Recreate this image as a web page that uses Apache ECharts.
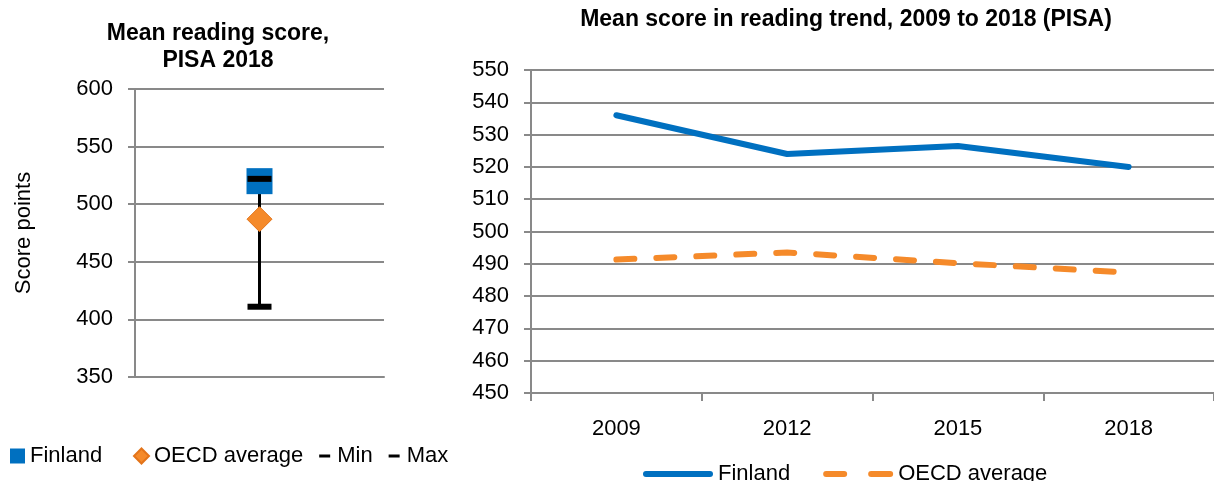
<!DOCTYPE html>
<html>
<head>
<meta charset="utf-8">
<script src="https://cdn.jsdelivr.net/npm/echarts@6/dist/echarts.min.js"></script>
<style>
  body { margin: 0; background: #fff; }
  #left { position: absolute; left: 0; top: 0; width: 460px; height: 481px; }
  #right { position: absolute; left: 460px; top: 0; width: 754px; height: 481px; }
</style>
</head>
<body>
<div id="left"></div>
<div id="right"></div>
<script>
// PISA 2018 snapshot
const finland2018 = [520];
const oecd2018 = [487];
const minScore = [411];
const maxScore = [522];

// trend 2009-2018
const years = ['2009', '2012', '2015', '2018'];
const finlandTrend = [536, 524, 526.5, 520];
const oecdTrend = [491.3, 493.5, 490.2, 487.3];

const gray = '#898989';
const blue = '#0070C0';
const orange = '#F58A2A';
const font = 'Liberation Sans, Arial, sans-serif';

let leftChart = echarts.init(document.getElementById('left'));
leftChart.setOption({
  animation: false,
  title: {
    text: 'Mean reading score,\nPISA 2018',
    left: 213,
    top: 15,
    textAlign: 'center',
    textStyle: { fontFamily: font, fontSize: 23, fontWeight: 'bold', color: '#000', lineHeight: 27 }
  },
  legend: [
    {
      data: [{ name: 'Finland', icon: 'rect' }],
      left: 5,
      top: 440,
      itemWidth: 15,
      itemHeight: 15,
      textStyle: { fontFamily: font, fontSize: 22, color: '#000' }
    },
    {
      data: [
        { name: 'OECD average', icon: 'diamond' },
        { name: 'Min', icon: 'path://M0,0M2,6h11v3h-11zM15,15' },
        { name: 'Max', icon: 'path://M0,0M2,6h11v3h-11zM15,15' }
      ],
      left: 128,
      top: 440,
      itemGap: 14,
      itemWidth: 15,
      itemHeight: 15,
      textStyle: { fontFamily: font, fontSize: 22, color: '#000' }
    }
  ],
  grid: { left: 135, right: 76, top: 89, bottom: 104 },
  xAxis: {
    type: 'category',
    data: ['PISA 2018'],
    axisLine: { lineStyle: { color: gray, width: 2 } },
    axisTick: { show: false },
    axisLabel: { show: false }
  },
  yAxis: {
    type: 'value',
    min: 350,
    max: 600,
    interval: 50,
    name: 'Score points',
    nameLocation: 'middle',
    nameGap: 100,
    nameTextStyle: { fontFamily: font, fontSize: 22, color: '#000' },
    axisLine: { show: true, lineStyle: { color: gray, width: 2 } },
    axisTick: { show: true, length: 7, lineStyle: { color: gray, width: 2 } },
    axisLabel: { fontFamily: font, fontSize: 22, color: '#000', margin: 22 },
    splitLine: { lineStyle: { color: gray, width: 2 } }
  },
  series: [
    {
      name: 'range',
      type: 'custom',
      z: 1,
      renderItem: function (params, api) {
        let lo = api.coord([api.value(0), api.value(1)]);
        let hi = api.coord([api.value(0), api.value(2)]);
        return {
          type: 'line',
          shape: { x1: lo[0], y1: lo[1], x2: hi[0], y2: hi[1] },
          style: { stroke: '#000', lineWidth: 3 }
        };
      },
      data: [[0, minScore[0], maxScore[0]]]
    },
    {
      name: 'Finland',
      type: 'scatter',
      z: 2,
      symbol: 'rect',
      symbolSize: 26,
      itemStyle: { color: blue, opacity: 1 },
      data: finland2018
    },
    {
      name: 'OECD average',
      type: 'scatter',
      z: 3,
      symbol: 'diamond',
      symbolSize: 25,
      itemStyle: { color: orange, borderColor: '#E3741A', borderWidth: 1, opacity: 1 },
      data: oecd2018
    },
    {
      name: 'Min',
      type: 'scatter',
      z: 4,
      symbol: 'rect',
      symbolSize: [24, 6],
      itemStyle: { color: '#000', opacity: 1 },
      data: minScore
    },
    {
      name: 'Max',
      type: 'scatter',
      z: 4,
      symbol: 'rect',
      symbolSize: [24, 6],
      itemStyle: { color: '#000', opacity: 1 },
      data: maxScore
    }
  ]
});

let rightChart = echarts.init(document.getElementById('right'));
rightChart.setOption({
  animation: false,
  title: {
    text: 'Mean score in reading trend, 2009 to 2018 (PISA)',
    left: 381,
    top: 3,
    textAlign: 'center',
    textStyle: { fontFamily: font, fontSize: 23, fontWeight: 'bold', color: '#000' }
  },
  legend: {
    data: [
      { name: 'Finland', icon: 'path://M3,0h64a3,3 0 0 1 0,6h-64a3,3 0 0 1 0,-6z' },
      { name: 'OECD average', icon: 'path://M3,0h18a3,3 0 0 1 0,6h-18a3,3 0 0 1 0,-6zM48,0h19a3,3 0 0 1 0,6h-19a3,3 0 0 1 0,-6z' }
    ],
    left: 178,
    top: 458,
    itemGap: 33,
    itemWidth: 70,
    itemHeight: 6,
    textStyle: { fontFamily: font, fontSize: 22, color: '#000' }
  },
  grid: { left: 71, right: 0, top: 70, bottom: 88 },
  xAxis: {
    type: 'category',
    data: years,
    boundaryGap: true,
    axisLine: { lineStyle: { color: gray, width: 2 } },
    axisTick: { show: true, length: 8, lineStyle: { color: gray, width: 2 } },
    axisLabel: { fontFamily: font, fontSize: 22, color: '#000', margin: 25 }
  },
  yAxis: {
    type: 'value',
    min: 450,
    max: 550,
    interval: 10,
    axisLine: { show: true, lineStyle: { color: gray, width: 2 } },
    axisTick: { show: true, length: 7, lineStyle: { color: gray, width: 2 } },
    axisLabel: { fontFamily: font, fontSize: 22, color: '#000', margin: 22 },
    splitLine: { lineStyle: { color: gray, width: 2 } }
  },
  series: [
    {
      name: 'Finland',
      type: 'line',
      symbol: 'none',
      color: blue,
      lineStyle: { color: blue, width: 6, cap: 'round' },
      data: finlandTrend
    },
    {
      name: 'OECD average',
      type: 'line',
      symbol: 'none',
      color: orange,
      lineStyle: { color: orange, width: 6, type: [18, 22], cap: 'round' },
      data: oecdTrend
    }
  ]
});

window.addEventListener('resize', () => {
  leftChart.resize();
  rightChart.resize();
});
</script>
</body>
</html>
